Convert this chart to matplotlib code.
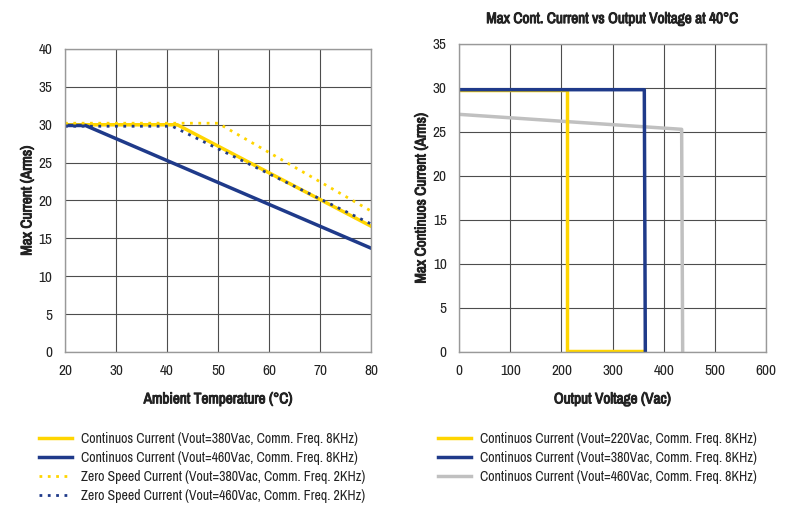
import matplotlib
matplotlib.use('Agg')
import matplotlib.pyplot as plt
from matplotlib import font_manager
import matplotlib.patheffects as pe
from matplotlib.lines import Line2D

# look for a condensed face, the reference uses a narrow font
narrow = None
for f in font_manager.fontManager.ttflist:
    if 'Narrow' in f.name or 'Condensed' in f.name:
        narrow = f.name
        break

has_bold = False
if narrow:
    has_bold = any(f.name == narrow and f.weight in ('bold', 700, 'heavy', 800)
                   for f in font_manager.fontManager.ttflist)
    plt.rcParams['font.family'] = [narrow, 'DejaVu Sans']
    fs_tick, fs_lab, fs_leg = 11, 11, 10
else:
    plt.rcParams['font.family'] = ['Roboto', 'DejaVu Sans']
    fs_tick, fs_lab, fs_leg = 10, 10, 8.2

# fake bold with a thin stroke if no bold face is around
bold_fx = [] if has_bold else [pe.withStroke(linewidth=0.7, foreground='#222222')]

YELLOW = '#ffd500'
NAVY = '#1f3a8a'
GRAY = '#c0c0c0'
GRID = '#4d4d4d'

# left chart: current vs ambient temperature
temp_cont_380 = [20, 42, 80]
curr_cont_380 = [30.0, 30.0, 16.6]
temp_cont_460 = [20, 24, 80]
curr_cont_460 = [29.9, 29.9, 13.7]
temp_zero_380 = [20, 50, 80]
curr_zero_380 = [30.2, 30.2, 18.6]
temp_zero_460 = [20, 41, 80]
curr_zero_460 = [29.8, 29.8, 16.9]

# right chart: current vs output voltage
volt_220 = [0, 210, 210, 362]
curr_220 = [29.8, 29.8, 0.1, 0.1]
volt_380 = [0, 362, 364]
curr_380 = [29.8, 29.8, 0.1]
volt_460 = [0, 435, 437]
curr_460 = [27.0, 25.3, 0.1]

left_labels = [
    'Continuos Current (Vout=380Vac, Comm. Freq. 8KHz)',
    'Continuos Current (Vout=460Vac, Comm. Freq. 8KHz)',
    'Zero Speed Current (Vout=380Vac, Comm. Freq. 2KHz)',
    'Zero Speed Current (Vout=460Vac, Comm. Freq. 2KHz)',
]
right_labels = [
    'Continuos Current (Vout=220Vac, Comm. Freq. 8KHz)',
    'Continuos Current (Vout=380Vac, Comm. Freq. 8KHz)',
    'Continuos Current (Vout=460Vac, Comm. Freq. 8KHz)',
]

DOT = (0, (1, 2.0))
lab_kw = dict(fontsize=fs_lab, fontweight='bold', color='#222222', path_effects=bold_fx)


def style_axes(ax):
    ax.grid(True, color=GRID, linewidth=0.8)
    ax.set_axisbelow(True)
    for s in ax.spines.values():
        s.set_color('#999999')
        s.set_linewidth(1.0)
    ax.tick_params(length=0, labelsize=fs_tick, colors='#222222', pad=9)


fig = plt.figure(figsize=(7.93, 5.05), dpi=100)

ax1 = fig.add_axes([0.082, 0.303, 0.386, 0.600])
ax1.plot(temp_cont_380, curr_cont_380, color=YELLOW, lw=2.5)
ax1.plot(temp_cont_460, curr_cont_460, color=NAVY, lw=2.5)
ax1.plot(temp_zero_380, curr_zero_380, color=YELLOW, lw=2, linestyle=DOT)
ax1.plot(temp_zero_460, curr_zero_460, color=NAVY, lw=2, linestyle=DOT)
ax1.set_xlim(20, 80)
ax1.set_ylim(0, 40)
ax1.set_xticks(range(20, 81, 10))
ax1.set_yticks(range(0, 41, 5))
ax1.set_xlabel('Ambient Temperature (°C)', labelpad=10, **lab_kw)
ax1.set_ylabel('Max Current (Arms)', labelpad=3, **lab_kw)
style_axes(ax1)

ax2 = fig.add_axes([0.579, 0.303, 0.387, 0.610])
ax2.plot(volt_460, curr_460, color=GRAY, lw=2.5)
ax2.plot(volt_220, curr_220, color=YELLOW, lw=2.5)
ax2.plot(volt_380, curr_380, color=NAVY, lw=2.5)
ax2.set_xlim(0, 600)
ax2.set_ylim(0, 35)
ax2.set_xticks(range(0, 601, 100))
ax2.set_yticks(range(0, 36, 5))
ax2.set_xlabel('Output Voltage (Vac)', labelpad=10, **lab_kw)
ax2.set_ylabel('Max Continuos Current (Arms)', labelpad=3, **lab_kw)
ax2.set_title('Max Cont. Current vs Output Voltage at 40°C', pad=15, **lab_kw)
style_axes(ax2)

leg_kw = dict(loc='upper left', frameon=False, fontsize=fs_leg, handlelength=2.4,
              labelspacing=0.36, borderaxespad=0, borderpad=0, handletextpad=0.65,
              labelcolor='#222222')

h_left = [
    Line2D([], [], color=YELLOW, lw=2.5),
    Line2D([], [], color=NAVY, lw=2.5),
    Line2D([], [], color=YELLOW, lw=2, linestyle=DOT),
    Line2D([], [], color=NAVY, lw=2, linestyle=DOT),
]
fig.legend(h_left, left_labels, bbox_to_anchor=(0.049, 0.144), **leg_kw)

h_right = [
    Line2D([], [], color=YELLOW, lw=2.5),
    Line2D([], [], color=NAVY, lw=2.5),
    Line2D([], [], color=GRAY, lw=2.5),
]
fig.legend(h_right, right_labels, bbox_to_anchor=(0.552, 0.144), **leg_kw)

fig.savefig('out.png', dpi=100)
